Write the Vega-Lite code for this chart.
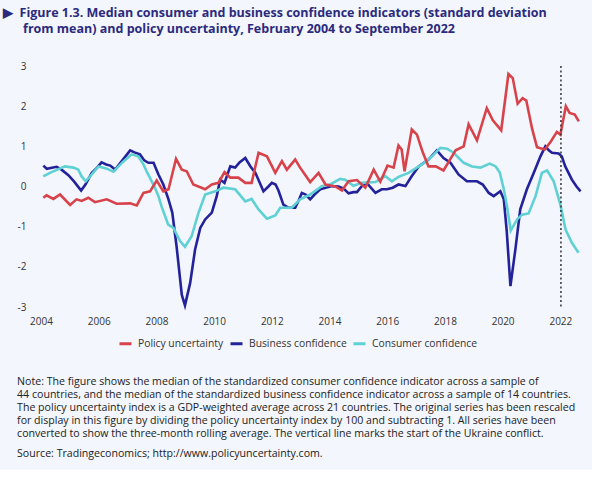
{
  "$schema": "https://vega.github.io/schema/vega-lite/v6.json",
  "background": "#f3f6fc",
  "padding": {"left": 3, "top": 6, "right": 6, "bottom": 10},
  "config": {"font": "Open Sans", "view": {"stroke": null}},
  "title": {
    "text": ["▶\u00a0\u00a0Figure 1.3.  Median consumer and business confidence indicators (standard deviation", "\u2800\u2800from mean) and policy uncertainty, February 2004 to September 2022"],
    "anchor": "start", "frame": "bounds", "font": "Open Sans", "fontSize": 12.5, "fontWeight": "bold",
    "color": "#2b2a7c", "lineHeight": 16, "offset": 26, "dx": -14
  },
  "vconcat": [
    {
      "width": 541,
      "height": 241,
      "title": {
        "text": ["Note: The figure shows the median of the standardized consumer confidence indicator across a sample of", "44 countries, and the median of the standardized business confidence indicator across a sample of 14 countries.", "The policy uncertainty index is a GDP-weighted average across 21 countries. The original series has been rescaled", "for display in this figure by dividing the policy uncertainty index by 100 and subtracting 1. All series have been", "converted to show the three-month rolling average. The vertical line marks the start of the Ukraine conflict."],
        "subtitle": "Source: Tradingeconomics; http://www.policyuncertainty.com.",
        "orient": "bottom", "anchor": "start", "frame": "bounds", "font": "Open Sans", "fontSize": 10.6, "fontWeight": "normal",
        "color": "#222222", "lineHeight": 13, "offset": 51,
        "subtitleFont": "Open Sans", "subtitleFontSize": 10.6, "subtitleColor": "#222222", "subtitlePadding": 9
      },
      "layer": [
        {
          "data": {"name": "series"},
          "mark": {"type": "line", "strokeWidth": 2.6, "interpolate": "linear"},
          "encoding": {
            "x": {"field": "year", "type": "quantitative", "scale": {"domain": [2004, 2022.75], "nice": false, "zero": false},
              "axis": {"values": [2004, 2006, 2008, 2010, 2012, 2014, 2016, 2018, 2020, 2022], "format": "d", "labelFlush": false, "domain": false, "ticks": false, "grid": false, "title": null, "labelFontSize": 10, "labelColor": "#333333", "labelPadding": 9}},
            "y": {"field": "value", "type": "quantitative", "scale": {"domain": [-3, 3], "nice": false},
              "axis": {"values": [-3, -2, -1, 0, 1, 2, 3], "labelExpr": "datum.value < 0 ? '-' + abs(datum.value) : '' + datum.value", "domain": false, "ticks": false, "grid": false, "title": null, "labelFontSize": 10, "labelColor": "#333333", "labelPadding": 15}},
            "color": {"field": "series", "type": "nominal",
              "scale": {"domain": ["Policy uncertainty", "Business confidence", "Consumer confidence"], "range": ["#d8434b", "#23229a", "#5fd0d4"]},
              "legend": {"orient": "none", "legendX": 77, "legendY": 270, "direction": "horizontal", "title": null, "symbolType": "stroke", "symbolStrokeWidth": 3, "symbolSize": 144, "labelFontSize": 10.3, "labelColor": "#333333", "columnPadding": 0, "labelOffset": 5}},
            "detail": {"field": "series"}
          }
        },
        {
          "data": {"values": [{"year": 2022.02}]},
          "mark": {"type": "rule", "strokeDash": [2, 2.5], "strokeWidth": 1.5, "color": "#333333"},
          "encoding": {
            "x": {"field": "year", "type": "quantitative"},
            "y": {"datum": 3},
            "y2": {"datum": -3}
          }
        }
      ]
    }
  ],
  "datasets": {
    "series": [
      {"series": "Business confidence", "year": 2004.08, "value": 0.52},
      {"series": "Business confidence", "year": 2004.2, "value": 0.44},
      {"series": "Business confidence", "year": 2004.54, "value": 0.49},
      {"series": "Business confidence", "year": 2004.71, "value": 0.42},
      {"series": "Business confidence", "year": 2004.95, "value": 0.28},
      {"series": "Business confidence", "year": 2005.15, "value": 0.12},
      {"series": "Business confidence", "year": 2005.39, "value": -0.1},
      {"series": "Business confidence", "year": 2005.54, "value": 0.05},
      {"series": "Business confidence", "year": 2005.76, "value": 0.34},
      {"series": "Business confidence", "year": 2005.92, "value": 0.45},
      {"series": "Business confidence", "year": 2006.1, "value": 0.6},
      {"series": "Business confidence", "year": 2006.26, "value": 0.55},
      {"series": "Business confidence", "year": 2006.4, "value": 0.52},
      {"series": "Business confidence", "year": 2006.57, "value": 0.42},
      {"series": "Business confidence", "year": 2006.82, "value": 0.65},
      {"series": "Business confidence", "year": 2007.09, "value": 0.9},
      {"series": "Business confidence", "year": 2007.24, "value": 0.85},
      {"series": "Business confidence", "year": 2007.43, "value": 0.8},
      {"series": "Business confidence", "year": 2007.58, "value": 0.65},
      {"series": "Business confidence", "year": 2007.72, "value": 0.59},
      {"series": "Business confidence", "year": 2007.9, "value": 0.59},
      {"series": "Business confidence", "year": 2008.07, "value": 0.3},
      {"series": "Business confidence", "year": 2008.24, "value": 0.05},
      {"series": "Business confidence", "year": 2008.41, "value": -0.3},
      {"series": "Business confidence", "year": 2008.55, "value": -0.65},
      {"series": "Business confidence", "year": 2008.7, "value": -1.5},
      {"series": "Business confidence", "year": 2008.88, "value": -2.7},
      {"series": "Business confidence", "year": 2008.99, "value": -2.96},
      {"series": "Business confidence", "year": 2009.17, "value": -2.4},
      {"series": "Business confidence", "year": 2009.34, "value": -1.57},
      {"series": "Business confidence", "year": 2009.52, "value": -1.03},
      {"series": "Business confidence", "year": 2009.69, "value": -0.82},
      {"series": "Business confidence", "year": 2009.92, "value": -0.65},
      {"series": "Business confidence", "year": 2010.09, "value": -0.24},
      {"series": "Business confidence", "year": 2010.21, "value": 0.17},
      {"series": "Business confidence", "year": 2010.36, "value": 0.09},
      {"series": "Business confidence", "year": 2010.56, "value": 0.5},
      {"series": "Business confidence", "year": 2010.73, "value": 0.47},
      {"series": "Business confidence", "year": 2010.88, "value": 0.6},
      {"series": "Business confidence", "year": 2011.08, "value": 0.71},
      {"series": "Business confidence", "year": 2011.26, "value": 0.5},
      {"series": "Business confidence", "year": 2011.43, "value": 0.34},
      {"series": "Business confidence", "year": 2011.71, "value": -0.12},
      {"series": "Business confidence", "year": 2011.88, "value": 0.0},
      {"series": "Business confidence", "year": 2012.0, "value": 0.09},
      {"series": "Business confidence", "year": 2012.13, "value": 0.05},
      {"series": "Business confidence", "year": 2012.23, "value": -0.1},
      {"series": "Business confidence", "year": 2012.4, "value": -0.45},
      {"series": "Business confidence", "year": 2012.58, "value": -0.53},
      {"series": "Business confidence", "year": 2012.81, "value": -0.53},
      {"series": "Business confidence", "year": 2012.93, "value": -0.35},
      {"series": "Business confidence", "year": 2013.04, "value": -0.16},
      {"series": "Business confidence", "year": 2013.17, "value": -0.2},
      {"series": "Business confidence", "year": 2013.33, "value": -0.32},
      {"series": "Business confidence", "year": 2013.48, "value": -0.2},
      {"series": "Business confidence", "year": 2013.68, "value": -0.07},
      {"series": "Business confidence", "year": 2014.08, "value": 0.01},
      {"series": "Business confidence", "year": 2014.31, "value": 0.0},
      {"series": "Business confidence", "year": 2014.49, "value": -0.05},
      {"series": "Business confidence", "year": 2014.66, "value": -0.17},
      {"series": "Business confidence", "year": 2014.83, "value": -0.14},
      {"series": "Business confidence", "year": 2014.95, "value": -0.14},
      {"series": "Business confidence", "year": 2015.11, "value": 0.0},
      {"series": "Business confidence", "year": 2015.29, "value": 0.09},
      {"series": "Business confidence", "year": 2015.59, "value": -0.16},
      {"series": "Business confidence", "year": 2015.81, "value": -0.07},
      {"series": "Business confidence", "year": 2015.99, "value": -0.07},
      {"series": "Business confidence", "year": 2016.19, "value": -0.03},
      {"series": "Business confidence", "year": 2016.39, "value": 0.05},
      {"series": "Business confidence", "year": 2016.63, "value": 0.01},
      {"series": "Business confidence", "year": 2016.84, "value": 0.25},
      {"series": "Business confidence", "year": 2017.09, "value": 0.5},
      {"series": "Business confidence", "year": 2017.43, "value": 0.67},
      {"series": "Business confidence", "year": 2017.72, "value": 0.9},
      {"series": "Business confidence", "year": 2017.95, "value": 0.71},
      {"series": "Business confidence", "year": 2018.19, "value": 0.59},
      {"series": "Business confidence", "year": 2018.47, "value": 0.3},
      {"series": "Business confidence", "year": 2018.76, "value": 0.13},
      {"series": "Business confidence", "year": 2019.11, "value": 0.13},
      {"series": "Business confidence", "year": 2019.31, "value": 0.05},
      {"series": "Business confidence", "year": 2019.52, "value": -0.16},
      {"series": "Business confidence", "year": 2019.69, "value": -0.24},
      {"series": "Business confidence", "year": 2019.92, "value": -0.12},
      {"series": "Business confidence", "year": 2020.04, "value": -0.32},
      {"series": "Business confidence", "year": 2020.14, "value": -1.1},
      {"series": "Business confidence", "year": 2020.27, "value": -2.48},
      {"series": "Business confidence", "year": 2020.44, "value": -1.57},
      {"series": "Business confidence", "year": 2020.61, "value": -0.57},
      {"series": "Business confidence", "year": 2020.84, "value": -0.07},
      {"series": "Business confidence", "year": 2021.08, "value": 0.34},
      {"series": "Business confidence", "year": 2021.31, "value": 0.75},
      {"series": "Business confidence", "year": 2021.48, "value": 1.0},
      {"series": "Business confidence", "year": 2021.6, "value": 0.9},
      {"series": "Business confidence", "year": 2021.71, "value": 0.84},
      {"series": "Business confidence", "year": 2021.94, "value": 0.82},
      {"series": "Business confidence", "year": 2022.05, "value": 0.75},
      {"series": "Business confidence", "year": 2022.17, "value": 0.5},
      {"series": "Business confidence", "year": 2022.4, "value": 0.17},
      {"series": "Business confidence", "year": 2022.56, "value": 0.0},
      {"series": "Business confidence", "year": 2022.7, "value": -0.12},

      {"series": "Consumer confidence", "year": 2004.08, "value": 0.25},
      {"series": "Consumer confidence", "year": 2004.31, "value": 0.34},
      {"series": "Consumer confidence", "year": 2004.83, "value": 0.5},
      {"series": "Consumer confidence", "year": 2005.12, "value": 0.47},
      {"series": "Consumer confidence", "year": 2005.29, "value": 0.42},
      {"series": "Consumer confidence", "year": 2005.41, "value": 0.25},
      {"series": "Consumer confidence", "year": 2005.55, "value": 0.13},
      {"series": "Consumer confidence", "year": 2005.76, "value": 0.3},
      {"series": "Consumer confidence", "year": 2005.99, "value": 0.5},
      {"series": "Consumer confidence", "year": 2006.26, "value": 0.45},
      {"series": "Consumer confidence", "year": 2006.51, "value": 0.37},
      {"series": "Consumer confidence", "year": 2006.82, "value": 0.6},
      {"series": "Consumer confidence", "year": 2007.14, "value": 0.8},
      {"series": "Consumer confidence", "year": 2007.37, "value": 0.75},
      {"series": "Consumer confidence", "year": 2007.55, "value": 0.55},
      {"series": "Consumer confidence", "year": 2007.66, "value": 0.38},
      {"series": "Consumer confidence", "year": 2007.84, "value": 0.12},
      {"series": "Consumer confidence", "year": 2007.95, "value": -0.03},
      {"series": "Consumer confidence", "year": 2008.07, "value": -0.24},
      {"series": "Consumer confidence", "year": 2008.18, "value": -0.5},
      {"series": "Consumer confidence", "year": 2008.41, "value": -0.95},
      {"series": "Consumer confidence", "year": 2008.59, "value": -1.03},
      {"series": "Consumer confidence", "year": 2008.82, "value": -1.36},
      {"series": "Consumer confidence", "year": 2008.99, "value": -1.5},
      {"series": "Consumer confidence", "year": 2009.22, "value": -1.24},
      {"series": "Consumer confidence", "year": 2009.46, "value": -0.65},
      {"series": "Consumer confidence", "year": 2009.69, "value": -0.2},
      {"series": "Consumer confidence", "year": 2010.04, "value": -0.12},
      {"series": "Consumer confidence", "year": 2010.32, "value": -0.03},
      {"series": "Consumer confidence", "year": 2010.73, "value": -0.07},
      {"series": "Consumer confidence", "year": 2011.08, "value": -0.37},
      {"series": "Consumer confidence", "year": 2011.3, "value": -0.31},
      {"series": "Consumer confidence", "year": 2011.54, "value": -0.57},
      {"series": "Consumer confidence", "year": 2011.83, "value": -0.8},
      {"series": "Consumer confidence", "year": 2012.12, "value": -0.72},
      {"series": "Consumer confidence", "year": 2012.29, "value": -0.53},
      {"series": "Consumer confidence", "year": 2012.69, "value": -0.53},
      {"series": "Consumer confidence", "year": 2012.98, "value": -0.32},
      {"series": "Consumer confidence", "year": 2013.33, "value": -0.2},
      {"series": "Consumer confidence", "year": 2013.73, "value": 0.01},
      {"series": "Consumer confidence", "year": 2014.02, "value": 0.05},
      {"series": "Consumer confidence", "year": 2014.37, "value": 0.19},
      {"series": "Consumer confidence", "year": 2014.54, "value": 0.17},
      {"series": "Consumer confidence", "year": 2014.83, "value": 0.02},
      {"series": "Consumer confidence", "year": 2015.12, "value": 0.09},
      {"series": "Consumer confidence", "year": 2015.59, "value": 0.11},
      {"series": "Consumer confidence", "year": 2015.93, "value": 0.26},
      {"series": "Consumer confidence", "year": 2016.16, "value": 0.13},
      {"series": "Consumer confidence", "year": 2016.39, "value": 0.24},
      {"series": "Consumer confidence", "year": 2016.74, "value": 0.34},
      {"series": "Consumer confidence", "year": 2017.2, "value": 0.55},
      {"series": "Consumer confidence", "year": 2017.55, "value": 0.75},
      {"series": "Consumer confidence", "year": 2017.84, "value": 0.96},
      {"series": "Consumer confidence", "year": 2018.07, "value": 0.94},
      {"series": "Consumer confidence", "year": 2018.3, "value": 0.84},
      {"series": "Consumer confidence", "year": 2018.65, "value": 0.59},
      {"series": "Consumer confidence", "year": 2018.94, "value": 0.5},
      {"series": "Consumer confidence", "year": 2019.23, "value": 0.47},
      {"series": "Consumer confidence", "year": 2019.55, "value": 0.57},
      {"series": "Consumer confidence", "year": 2019.76, "value": 0.5},
      {"series": "Consumer confidence", "year": 2019.9, "value": 0.35},
      {"series": "Consumer confidence", "year": 2020.04, "value": -0.07},
      {"series": "Consumer confidence", "year": 2020.15, "value": -0.49},
      {"series": "Consumer confidence", "year": 2020.28, "value": -1.1},
      {"series": "Consumer confidence", "year": 2020.5, "value": -0.82},
      {"series": "Consumer confidence", "year": 2020.67, "value": -0.7},
      {"series": "Consumer confidence", "year": 2020.9, "value": -0.67},
      {"series": "Consumer confidence", "year": 2021.14, "value": -0.24},
      {"series": "Consumer confidence", "year": 2021.36, "value": 0.34},
      {"series": "Consumer confidence", "year": 2021.54, "value": 0.4},
      {"series": "Consumer confidence", "year": 2021.77, "value": 0.13},
      {"series": "Consumer confidence", "year": 2022.0, "value": -0.45},
      {"series": "Consumer confidence", "year": 2022.18, "value": -1.07},
      {"series": "Consumer confidence", "year": 2022.4, "value": -1.4},
      {"series": "Consumer confidence", "year": 2022.63, "value": -1.65},

      {"series": "Policy uncertainty", "year": 2004.08, "value": -0.28},
      {"series": "Policy uncertainty", "year": 2004.19, "value": -0.22},
      {"series": "Policy uncertainty", "year": 2004.43, "value": -0.31},
      {"series": "Policy uncertainty", "year": 2004.66, "value": -0.2},
      {"series": "Policy uncertainty", "year": 2005.01, "value": -0.46},
      {"series": "Policy uncertainty", "year": 2005.23, "value": -0.32},
      {"series": "Policy uncertainty", "year": 2005.41, "value": -0.36},
      {"series": "Policy uncertainty", "year": 2005.64, "value": -0.28},
      {"series": "Policy uncertainty", "year": 2005.87, "value": -0.39},
      {"series": "Policy uncertainty", "year": 2006.28, "value": -0.32},
      {"series": "Policy uncertainty", "year": 2006.62, "value": -0.43},
      {"series": "Policy uncertainty", "year": 2007.09, "value": -0.42},
      {"series": "Policy uncertainty", "year": 2007.32, "value": -0.47},
      {"series": "Policy uncertainty", "year": 2007.55, "value": -0.16},
      {"series": "Policy uncertainty", "year": 2007.78, "value": -0.12},
      {"series": "Policy uncertainty", "year": 2008.01, "value": 0.15},
      {"series": "Policy uncertainty", "year": 2008.24, "value": -0.12},
      {"series": "Policy uncertainty", "year": 2008.42, "value": -0.07},
      {"series": "Policy uncertainty", "year": 2008.68, "value": 0.69},
      {"series": "Policy uncertainty", "year": 2008.88, "value": 0.42},
      {"series": "Policy uncertainty", "year": 2009.05, "value": 0.38},
      {"series": "Policy uncertainty", "year": 2009.28, "value": 0.05},
      {"series": "Policy uncertainty", "year": 2009.69, "value": -0.07},
      {"series": "Policy uncertainty", "year": 2009.92, "value": 0.05},
      {"series": "Policy uncertainty", "year": 2010.15, "value": 0.09},
      {"series": "Policy uncertainty", "year": 2010.36, "value": 0.36},
      {"series": "Policy uncertainty", "year": 2010.56, "value": 0.22},
      {"series": "Policy uncertainty", "year": 2010.84, "value": 0.22},
      {"series": "Policy uncertainty", "year": 2011.08, "value": 0.09},
      {"series": "Policy uncertainty", "year": 2011.3, "value": 0.09},
      {"series": "Policy uncertainty", "year": 2011.54, "value": 0.84},
      {"series": "Policy uncertainty", "year": 2011.83, "value": 0.75},
      {"series": "Policy uncertainty", "year": 2012.12, "value": 0.34},
      {"series": "Policy uncertainty", "year": 2012.35, "value": 0.63},
      {"series": "Policy uncertainty", "year": 2012.52, "value": 0.42},
      {"series": "Policy uncertainty", "year": 2012.81, "value": 0.67},
      {"series": "Policy uncertainty", "year": 2012.98, "value": 0.47},
      {"series": "Policy uncertainty", "year": 2013.33, "value": 0.11},
      {"series": "Policy uncertainty", "year": 2013.62, "value": 0.34},
      {"series": "Policy uncertainty", "year": 2013.86, "value": 0.05},
      {"series": "Policy uncertainty", "year": 2014.2, "value": 0.0},
      {"series": "Policy uncertainty", "year": 2014.43, "value": -0.1},
      {"series": "Policy uncertainty", "year": 2014.66, "value": 0.13},
      {"series": "Policy uncertainty", "year": 2014.95, "value": 0.16},
      {"series": "Policy uncertainty", "year": 2015.24, "value": -0.03},
      {"series": "Policy uncertainty", "year": 2015.53, "value": 0.42},
      {"series": "Policy uncertainty", "year": 2015.76, "value": 0.12},
      {"series": "Policy uncertainty", "year": 2016.01, "value": 0.52},
      {"series": "Policy uncertainty", "year": 2016.22, "value": 0.47},
      {"series": "Policy uncertainty", "year": 2016.39, "value": 1.02},
      {"series": "Policy uncertainty", "year": 2016.5, "value": 0.92},
      {"series": "Policy uncertainty", "year": 2016.6, "value": 0.38},
      {"series": "Policy uncertainty", "year": 2016.85, "value": 1.42},
      {"series": "Policy uncertainty", "year": 2017.03, "value": 1.29},
      {"series": "Policy uncertainty", "year": 2017.23, "value": 0.85},
      {"series": "Policy uncertainty", "year": 2017.43, "value": 0.5},
      {"series": "Policy uncertainty", "year": 2017.68, "value": 0.5},
      {"series": "Policy uncertainty", "year": 2017.95, "value": 0.4},
      {"series": "Policy uncertainty", "year": 2018.16, "value": 0.65},
      {"series": "Policy uncertainty", "year": 2018.37, "value": 0.9},
      {"series": "Policy uncertainty", "year": 2018.65, "value": 1.0},
      {"series": "Policy uncertainty", "year": 2018.82, "value": 1.55},
      {"series": "Policy uncertainty", "year": 2019.11, "value": 1.15},
      {"series": "Policy uncertainty", "year": 2019.45, "value": 1.95},
      {"series": "Policy uncertainty", "year": 2019.66, "value": 1.65},
      {"series": "Policy uncertainty", "year": 2019.95, "value": 1.4},
      {"series": "Policy uncertainty", "year": 2020.2, "value": 2.8},
      {"series": "Policy uncertainty", "year": 2020.35, "value": 2.7},
      {"series": "Policy uncertainty", "year": 2020.52, "value": 2.06},
      {"series": "Policy uncertainty", "year": 2020.69, "value": 2.2},
      {"series": "Policy uncertainty", "year": 2020.82, "value": 2.14},
      {"series": "Policy uncertainty", "year": 2021.02, "value": 1.44},
      {"series": "Policy uncertainty", "year": 2021.19, "value": 0.98},
      {"series": "Policy uncertainty", "year": 2021.46, "value": 0.92},
      {"series": "Policy uncertainty", "year": 2021.67, "value": 1.12},
      {"series": "Policy uncertainty", "year": 2021.88, "value": 1.36},
      {"series": "Policy uncertainty", "year": 2022.0, "value": 1.29},
      {"series": "Policy uncertainty", "year": 2022.19, "value": 2.0},
      {"series": "Policy uncertainty", "year": 2022.32, "value": 1.83},
      {"series": "Policy uncertainty", "year": 2022.5, "value": 1.79},
      {"series": "Policy uncertainty", "year": 2022.64, "value": 1.62}
    ]
  }
}
